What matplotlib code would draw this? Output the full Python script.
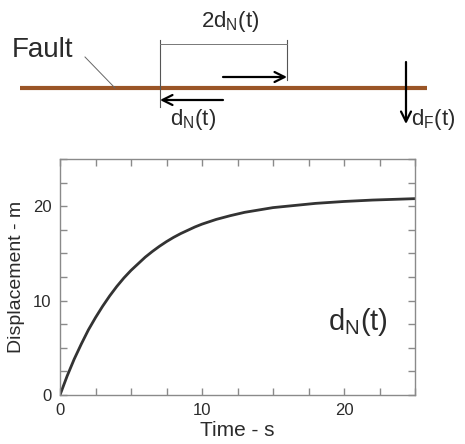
import numpy as np
import matplotlib
matplotlib.use('Agg')
import matplotlib.pyplot as plt

plt.rcParams['font.family'] = ['Liberation Sans', 'DejaVu Sans']

# Near-field slip history d_N(t)
time_s = [0, 0.5, 1, 1.5, 2, 2.5, 3, 3.5, 4, 4.5, 5, 5.5, 6, 6.5, 7, 7.5,
          8, 8.5, 9, 9.5, 10, 11, 12, 13, 14, 15, 16, 17, 18, 19, 20, 22, 25]
disp_m = [0, 2.0, 3.8, 5.4, 6.9, 8.2, 9.4, 10.5, 11.5, 12.4, 13.2, 13.9, 14.6,
          15.2, 15.75, 16.25, 16.7, 17.1, 17.45, 17.8, 18.1, 18.6, 19.0, 19.35,
          19.6, 19.85, 20.0, 20.15, 20.3, 20.4, 20.5, 20.65, 20.8]

x_major = [0, 10, 20]
y_major = [0, 10, 20]

ink = '#2b2b2b'
frame = '#8a8a8a'
fault_col = '#9a5526'

fig = plt.figure(figsize=(4.65, 4.44), dpi=100)

# --- fault sketch, drawn in pixel coordinates on an overlay ---
sk = fig.add_axes([0, 0, 1, 1])
sk.set_xlim(0, 465)
sk.set_ylim(444, 0)
sk.axis('off')

sk.plot([20, 427], [88, 88], color=fault_col, lw=3, solid_capstyle='butt')
sk.text(12, 50, 'Fault', fontsize=20, color=ink, va='center', ha='left')
sk.plot([85, 115], [57, 88], color='#666666', lw=0.7)

# dimension lines for 2d_N(t)
sk.plot([160, 160], [40, 107], color='#555555', lw=0.8)
sk.plot([287, 287], [40, 80], color='#555555', lw=0.8)
sk.plot([160, 287], [44, 44], color='#777777', lw=0.7)
sk.text(230, 22, r'2d$\mathregular{_N}$(t)', fontsize=16, color=ink,
        ha='center', va='center')

arrow = dict(arrowstyle='->', color='black', lw=1.6, mutation_scale=18,
             shrinkA=0, shrinkB=0)
sk.annotate('', xy=(287, 77), xytext=(223, 77), arrowprops=arrow)
sk.annotate('', xy=(160, 100), xytext=(223, 100), arrowprops=arrow)
sk.text(193, 119, r'd$\mathregular{_N}$(t)', fontsize=16, color=ink,
        ha='center', va='center')

sk.annotate('', xy=(406, 124), xytext=(406, 62), arrowprops=arrow)
sk.text(411, 119, r'd$\mathregular{_F}$(t)', fontsize=16, color=ink,
        ha='left', va='center')

# --- displacement vs time ---
ax = fig.add_axes([60 / 465, 1 - 395 / 444, 355 / 465, 236 / 444])
ax.plot(time_s, disp_m, color='#333333', lw=2, solid_joinstyle='round')
ax.set_xlim(0, 25)
ax.set_ylim(0, 25)
ax.set_xticks(x_major)
ax.set_yticks(y_major)
ax.set_xticks(np.arange(0, 25.1, 2.5), minor=True)
ax.set_yticks(np.arange(0, 25.1, 2.5), minor=True)
ax.tick_params(which='both', direction='in', top=True, right=True,
               length=5, width=1, color=frame, labelsize=12, labelcolor=ink, pad=6)
for s in ax.spines.values():
    s.set_color(frame)
    s.set_linewidth(1)
ax.set_xlabel('Time - s', fontsize=15, color=ink, labelpad=2)
ax.set_ylabel('Displacement - m', fontsize=14, color=ink, labelpad=6)
ax.text(0.84, 0.31, r'd$\mathregular{_N}$(t)', transform=ax.transAxes,
        fontsize=21, color=ink, ha='center', va='center')

fig.savefig('out.png', dpi=100)
